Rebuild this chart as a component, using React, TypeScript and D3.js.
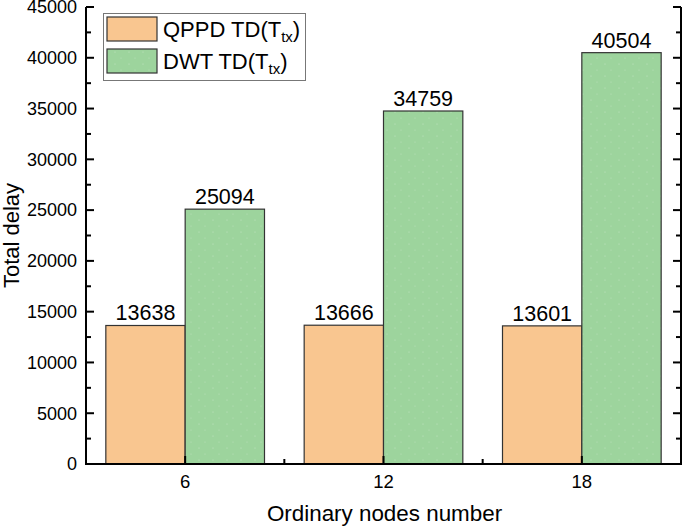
import React from "react";
import * as d3 from "d3";

const categories = [6, 12, 18];
const qppdValues = [13638, 13666, 13601];
const dwtValues = [25094, 34759, 40504];
const yTicks = [0, 5000, 10000, 15000, 20000, 25000, 30000, 35000, 40000, 45000];
const seriesNames = ["QPPD TD", "DWT TD"];
const seriesColors = ["#F9C690", "#9DD49D"];

const W = 685;
const H = 528;
const left = 86;
const right = 681;
const top = 7;
const bottom = 464;
const FONT = "'Liberation Sans', Arial, sans-serif";

export default function App() {
  const x = d3.scaleLinear().domain([3, 21]).range([left, right]);
  const y = d3.scaleLinear().domain([0, 45000]).range([bottom, top]);
  const barW = 2.4;
  const minorY = d3.range(2500, 45000, 5000);
  const minorX = [9, 15];

  const series = [qppdValues, dwtValues];

  return (
    <svg width={W} height={H} style={{ position: "absolute", left: 0, top: 0 }} fontFamily={FONT}>
      <defs>
        <pattern id="dots" width="14" height="12" patternUnits="userSpaceOnUse">
          <rect width="14" height="12" fill={seriesColors[1]} />
          <circle cx="3" cy="4" r="0.5" fill="#ffffff" opacity="0.45" />
          <circle cx="9" cy="10" r="0.5" fill="#ffffff" opacity="0.35" />
        </pattern>
      </defs>
      {/* bars */}
      {categories.map((c, i) =>
        series.map((vals, s) => {
          const x0 = s === 0 ? x(c - barW) : x(c);
          const x1 = s === 0 ? x(c) : x(c + barW);
          return (
            <g key={`${i}-${s}`}>
              <rect
                x={x0}
                y={y(vals[i])}
                width={x1 - x0}
                height={y(0) - y(vals[i])}
                fill={s === 0 ? seriesColors[0] : "url(#dots)"}
                stroke="#333"
                strokeWidth={1.2}
              />
              <text
                x={(x0 + x1) / 2}
                y={y(vals[i]) - 5}
                textAnchor="middle"
                fontSize={21.5}
                fill="#000"
              >
                {vals[i]}
              </text>
            </g>
          );
        })
      )}
      {/* axes */}
      <line x1={left} x2={left} y1={top} y2={bottom} stroke="#000" strokeWidth={2} />
      <line x1={right} x2={right} y1={top} y2={bottom} stroke="#000" strokeWidth={2} />
      <line x1={left - 1} x2={right + 1} y1={bottom} y2={bottom} stroke="#000" strokeWidth={2} />
      {yTicks.map((t) => (
        <g key={t}>
          <line x1={left} x2={left + 8} y1={y(t)} y2={y(t)} stroke="#000" strokeWidth={2} />
          <line x1={right} x2={right - 8} y1={y(t)} y2={y(t)} stroke="#000" strokeWidth={2} />
          <text x={left - 9} y={y(t)} dy="0.35em" textAnchor="end" fontSize={18} fill="#000">
            {t}
          </text>
        </g>
      ))}
      {minorY.map((t) => (
        <g key={"m" + t}>
          <line x1={left} x2={left + 5} y1={y(t)} y2={y(t)} stroke="#000" strokeWidth={2} />
          <line x1={right} x2={right - 5} y1={y(t)} y2={y(t)} stroke="#000" strokeWidth={2} />
        </g>
      ))}
      {categories.map((c) => (
        <g key={"x" + c}>
          <line x1={x(c)} x2={x(c)} y1={bottom} y2={bottom - 8} stroke="#000" strokeWidth={2} />
          <text x={x(c)} y={bottom + 24} textAnchor="middle" fontSize={18.5} fill="#000">
            {c}
          </text>
        </g>
      ))}
      {minorX.map((c) => (
        <line key={"mx" + c} x1={x(c)} x2={x(c)} y1={bottom} y2={bottom - 5} stroke="#000" strokeWidth={2} />
      ))}
      {/* axis titles */}
      <text x={(left + right) / 2 + 1} y={521} textAnchor="middle" fontSize={22.4} fill="#000">
        Ordinary nodes number
      </text>
      <text
        transform={`translate(19, ${(top + bottom) / 2}) rotate(-90)`}
        textAnchor="middle"
        fontSize={22}
        fill="#000"
      >
        Total delay
      </text>
      {/* legend */}
      <rect x={103.5} y={13.5} width={202} height={67} fill="#fff" stroke="#777" strokeWidth={1} />
      {seriesNames.map((name, i) => (
        <g key={name}>
          <rect
            x={107}
            y={17 + i * 32}
            width={50}
            height={24}
            fill={i === 0 ? seriesColors[0] : "url(#dots)"}
            stroke="#333"
            strokeWidth={1.2}
          />
          <text x={163} y={29 + i * 32} dy="0.35em" fontSize={22} fill="#000">
            {name}(T<tspan dy="5" fontSize={15}>tx</tspan>
            <tspan dy="-5">)</tspan>
          </text>
        </g>
      ))}
    </svg>
  );
}
